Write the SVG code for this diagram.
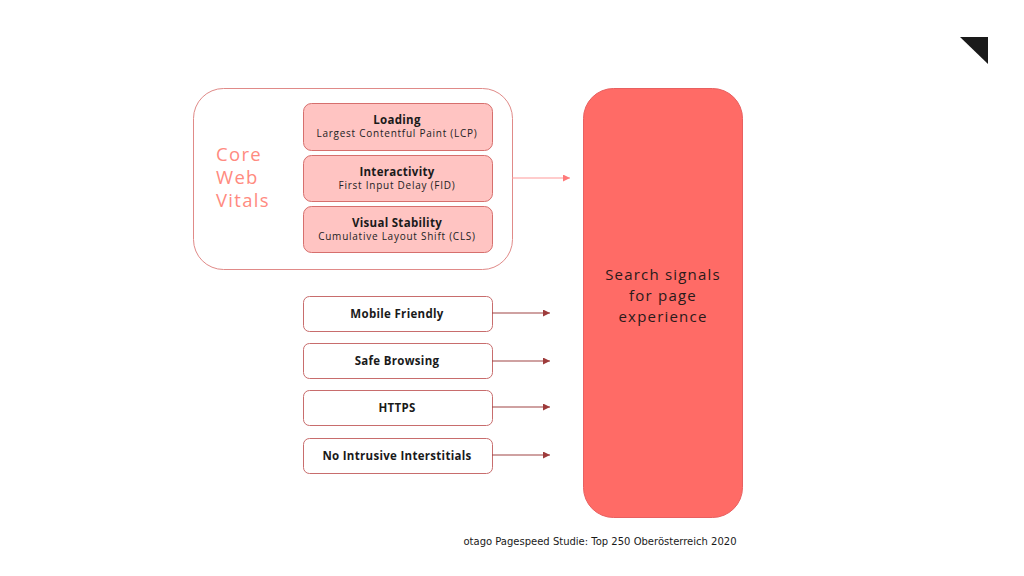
<svg xmlns="http://www.w3.org/2000/svg" width="1024" height="576" viewBox="0 0 1024 576">
<defs>
<marker id="ah1" viewBox="0 0 10 10" refX="10" refY="5" markerWidth="7" markerHeight="7" markerUnits="userSpaceOnUse" orient="auto"><path d="M0,0 L10,5 L0,10 z" fill="#ff7a7a"/></marker>
<marker id="ah2" viewBox="0 0 10 10" refX="10" refY="5" markerWidth="7" markerHeight="7" markerUnits="userSpaceOnUse" orient="auto"><path d="M0,0 L10,5 L0,10 z" fill="#9e3b3b"/></marker>
</defs>
<style>
text{font-family:"Open Sans","Liberation Sans",sans-serif;text-anchor:middle}
.cwv{fill:#ffc4c2;stroke:#d66f6d;stroke-width:1}
.sig{fill:#ffffff;stroke:#c86d6d;stroke-width:1}
.t{font-size:11.5px;font-weight:bold;fill:#1a1a1a;letter-spacing:0.3px}
.s{font-size:10px;fill:#222;letter-spacing:0.75px}
.c1{stroke:#ff9a9a;stroke-width:1.2;fill:none}
.c2{stroke:#a04545;stroke-width:1.2;fill:none}
.big{font-size:15px;fill:#2a1a1a;letter-spacing:1.2px}
.cw{font-size:18.5px;fill:#ff8a80;letter-spacing:1.3px;text-anchor:start}
</style>
<rect width="1024" height="576" fill="#ffffff"/>
<polygon points="960,37 988,37 988,64" fill="#1a1a1a"/>
<g id="core-web-vitals">
<rect x="193.5" y="88.5" width="319" height="181" rx="30" fill="#ffffff" stroke="#e08a88" stroke-width="1"/>
<text class="cw" x="216" y="161">Core</text>
<text class="cw" x="216" y="184">Web</text>
<text class="cw" x="216" y="207">Vitals</text>
</g>
<g id="loading">
<rect class="cwv" x="303.5" y="103.5" width="189" height="47" rx="8"/>
<text class="t" x="397" y="124">Loading</text>
<text class="s" x="397" y="137">Largest Contentful Paint (LCP)</text>
</g>
<g id="interactivity">
<rect class="cwv" x="303.5" y="155.5" width="189" height="46" rx="8"/>
<text class="t" x="397" y="176">Interactivity</text>
<text class="s" x="397" y="189">First Input Delay (FID)</text>
</g>
<g id="visual-stability">
<rect class="cwv" x="303.5" y="206.5" width="189" height="46" rx="8"/>
<text class="t" x="397" y="227">Visual Stability</text>
<text class="s" x="397" y="240">Cumulative Layout Shift (CLS)</text>
</g>
<g id="mobile-friendly">
<rect class="sig" x="303.5" y="296.5" width="189" height="35" rx="6"/>
<text class="t" x="397" y="318">Mobile Friendly</text>
</g>
<g id="safe-browsing">
<rect class="sig" x="303.5" y="343.5" width="189" height="35" rx="6"/>
<text class="t" x="397" y="365">Safe Browsing</text>
</g>
<g id="https">
<rect class="sig" x="303.5" y="390.5" width="189" height="35" rx="6"/>
<text class="t" x="397" y="412">HTTPS</text>
</g>
<g id="no-intrusive">
<rect class="sig" x="303.5" y="438.5" width="189" height="35" rx="6"/>
<text class="t" x="397" y="460">No Intrusive Interstitials</text>
</g>
<g id="search-signals">
<rect x="583.5" y="88.5" width="159" height="429" rx="30" fill="#ff6b66" stroke="#e86060" stroke-width="1"/>
<text class="big" x="663" y="280">Search signals</text>
<text class="big" x="663" y="301">for page</text>
<text class="big" x="663" y="322">experience</text>
</g>
<g id="connectors">
<line class="c1" x1="512" y1="178" x2="570" y2="178" marker-end="url(#ah1)"/>
<line class="c2" x1="492" y1="313" x2="550" y2="313" marker-end="url(#ah2)"/>
<line class="c2" x1="492" y1="361" x2="550" y2="361" marker-end="url(#ah2)"/>
<line class="c2" x1="492" y1="407" x2="550" y2="407" marker-end="url(#ah2)"/>
<line class="c2" x1="492" y1="455" x2="550" y2="455" marker-end="url(#ah2)"/>
</g>
<text x="600" y="545" font-size="10" fill="#1a1a1a" style="font-family:'DejaVu Sans',sans-serif">otago Pagespeed Studie: Top 250 Oberösterreich 2020</text>
</svg>
